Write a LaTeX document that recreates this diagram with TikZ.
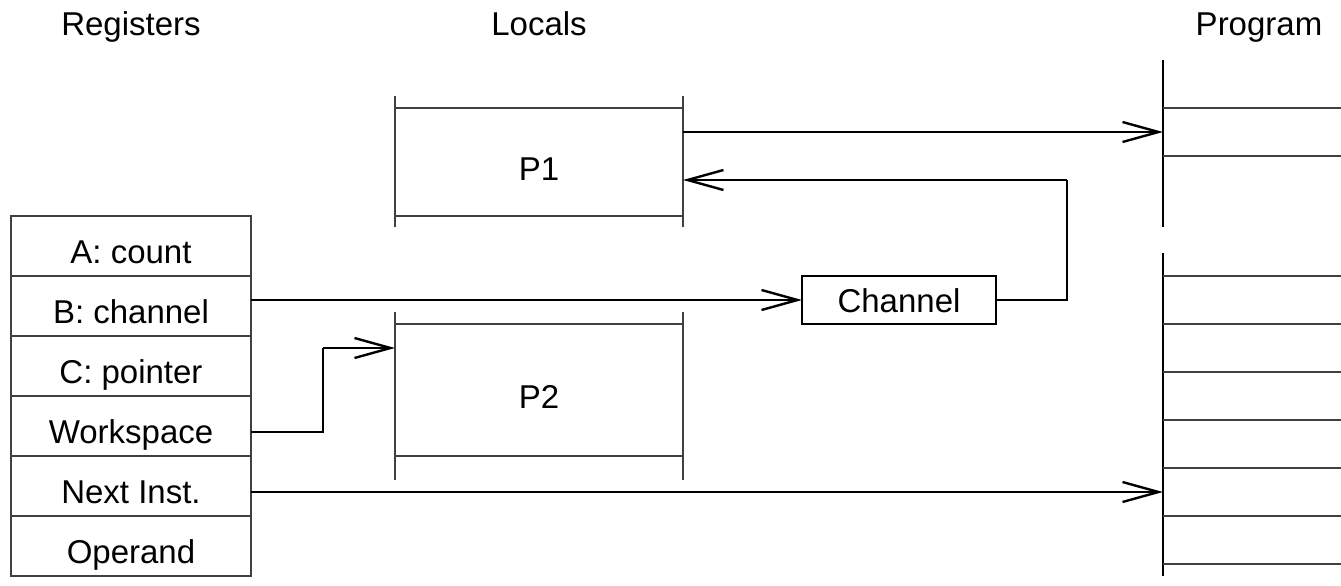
\documentclass[tikz,border=0pt]{standalone}
\usepackage{fontspec}
\setmainfont{Liberation Sans}
\usetikzlibrary{arrows.meta}
\begin{document}
\begin{tikzpicture}[x=1pt,y=-1pt,
  every node/.style={font=\fontsize{33}{40}\selectfont, inner sep=0pt, outer sep=0pt},
  reg/.style={draw=black!75, line width=1.6pt, minimum width=240pt, minimum height=60pt,
              text height=40pt, text depth=6pt},
  proc/.style={minimum width=288pt, text height=40pt, text depth=4pt},
  frame/.style={draw=black!75, line width=1.6pt},
  spine/.style={draw=black, line width=1.8pt},
  conn/.style={draw=black, line width=2.4pt, -{Straight Barb[length=36pt,width=20pt]}},
  wire/.style={draw=black, line width=2.4pt},
  chanbox/.style={draw=black, line width=2pt, minimum width=194pt, minimum height=48pt,
                  text height=30pt, text depth=6pt}
]
\useasboundingbox (0,0) rectangle (1341,586);

% column headings
\node[anchor=base] (hReg)  at (131,36)  {Registers};
\node[anchor=base] (hLoc)  at (539,36)  {Locals};
\node[anchor=base] (hProg) at (1259,36) {Program};

% register file
\node[reg] (rA) at (131,246) {A: count};
\node[reg] (rB) at (131,306) {B: channel};
\node[reg] (rC) at (131,366) {C: pointer};
\node[reg] (rW) at (131,426) {Workspace};
\node[reg] (rN) at (131,486) {Next Inst.};
\node[reg] (rO) at (131,546) {Operand};

% process workspaces
\node[proc, minimum height=108pt] (P1) at (539,162) {P1};
\draw[frame] (P1.north west) -- (P1.north east);
\draw[frame] (P1.south west) -- (P1.south east);
\draw[frame] ([yshift=12pt]P1.north west) -- ([yshift=-11pt]P1.south west);
\draw[frame] ([yshift=12pt]P1.north east) -- ([yshift=-11pt]P1.south east);

\node[proc, minimum height=132pt] (P2) at (539,390) {P2};
\draw[frame] (P2.north west) -- (P2.north east);
\draw[frame] (P2.south west) -- (P2.south east);
\draw[frame] ([yshift=12pt]P2.north west) -- ([yshift=-24pt]P2.south west);
\draw[frame] ([yshift=12pt]P2.north east) -- ([yshift=-24pt]P2.south east);

% channel
\node[chanbox] (chan) at (899,300) {Channel};

% program memory
\node[minimum width=178pt, minimum height=167pt] (progA) at (1252,143.5) {};
\node[minimum width=178pt, minimum height=323pt] (progB) at (1252,414.5) {};
\draw[spine] (progA.north west) -- (progA.south west);
\draw[spine] (progB.north west) -- (progB.south west);
\foreach \y in {108,156}
  \draw[frame] (progA.west |- 0,\y) -- (progA.east |- 0,\y);
\foreach \y in {276,324,372,420,468,516,564}
  \draw[frame] (progB.west |- 0,\y) -- (progB.east |- 0,\y);

% connections
\draw[conn] (P1.east |- 0,132) -- (progA.west |- 0,132);
\draw[wire] (chan.east) -| (1067,180) coordinate (turnP1);
\draw[conn] (turnP1) -- (P1.east |- turnP1);
\draw[conn] (rB.east |- chan.west) -- (chan.west);
\draw[wire] (rW.east |- 0,432) -| (323,348) coordinate (turnP2);
\draw[conn] (turnP2) -- (P2.west |- turnP2);
\draw[conn] (rN.east |- 0,492) -- (progB.west |- 0,492);
\end{tikzpicture}
\end{document}
